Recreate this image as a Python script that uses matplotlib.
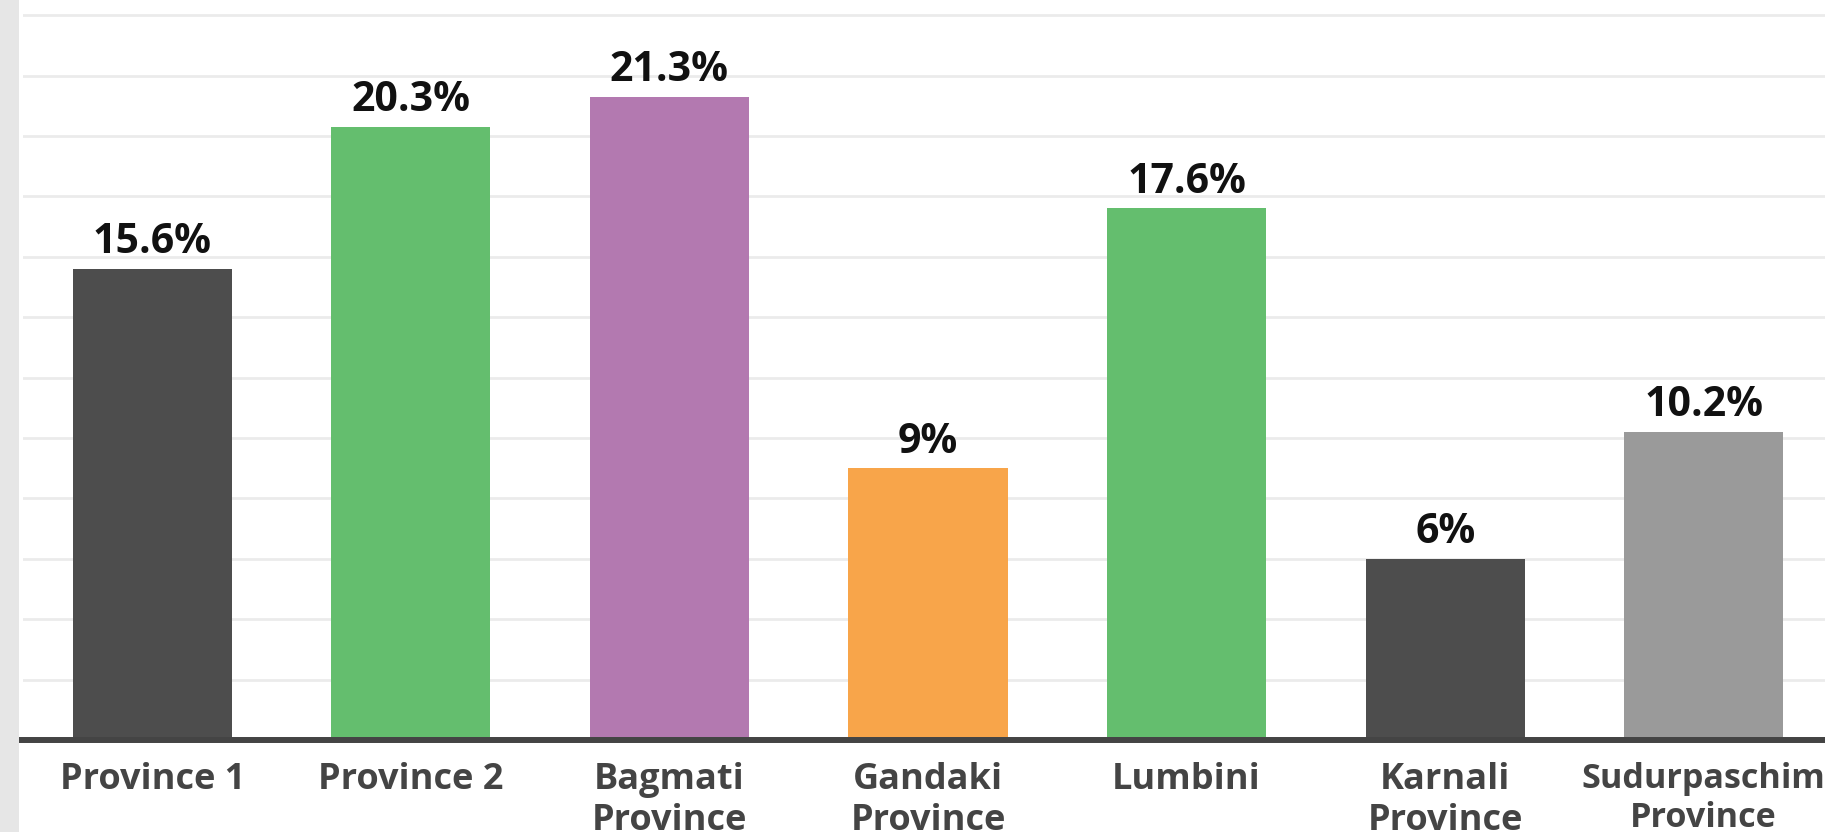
import matplotlib
matplotlib.use("Agg")
import matplotlib.pyplot as plt
from matplotlib.patches import Rectangle

categories = ["Province 1", "Province 2", "Bagmati\nProvince", "Gandaki\nProvince",
              "Lumbini", "Karnali\nProvince", "Sudurpaschim\nProvince"]
values = [15.6, 20.3, 21.3, 9, 17.6, 6, 10.2]
value_labels = ["15.6%", "20.3%", "21.3%", "9%", "17.6%", "6%", "10.2%"]
colors = ["#4d4d4d", "#64be6e", "#b379b0", "#f8a54a", "#64be6e", "#4d4d4d", "#9a9a9a"]
grid_ticks = [0, 2, 4, 6, 8, 10, 12, 14, 16, 18, 20, 22, 24]

W, H = 1825, 832
fig = plt.figure(figsize=(W / 100, H / 100), dpi=100)
fig.patch.set_facecolor("white")
fig.patches.append(Rectangle((0, 0), 19 / W, 1, transform=fig.transFigure,
                             facecolor="#e6e6e6", edgecolor="none", zorder=0))

left = 23 / W
bottom = (H - 740) / H
ax = fig.add_axes([left, bottom, 1810 / W, 740 / H])
ax.set_facecolor("none")
x = list(range(len(categories)))
ax.bar(x, values, width=0.615, color=colors, zorder=3)
ax.set_xlim(-0.5, 6.5)
ax.set_ylim(0, 24.5)

ax.set_yticks(grid_ticks)
ax.yaxis.grid(True, color="#ebebeb", linewidth=2.0, zorder=0)
ax.tick_params(axis="y", left=False, labelleft=False)
ax.tick_params(axis="x", bottom=False, pad=12)
ax.set_xticks(x)
ax.set_xticklabels(categories, fontfamily="Open Sans", fontweight="bold",
                   fontsize=26, color="#444444", linespacing=1.2)
ax.get_xticklabels()[-1].set_fontsize(24.6)
for s in ["top", "right", "left"]:
    ax.spines[s].set_visible(False)
ax.spines["bottom"].set_color("#444444")
ax.spines["bottom"].set_linewidth(4.3)
ax.spines["bottom"].set_zorder(4)
ax.spines["bottom"].set_bounds(-0.53, 6.5)

for xi, v, lab in zip(x, values, value_labels):
    ax.annotate(lab, (xi, v), xytext=(0, 4), textcoords="offset points",
                ha="center", va="bottom", fontfamily="Open Sans",
                fontweight="bold", fontsize=29.5, color="#111111")

fig.savefig("out.png", dpi=100, facecolor="white")
